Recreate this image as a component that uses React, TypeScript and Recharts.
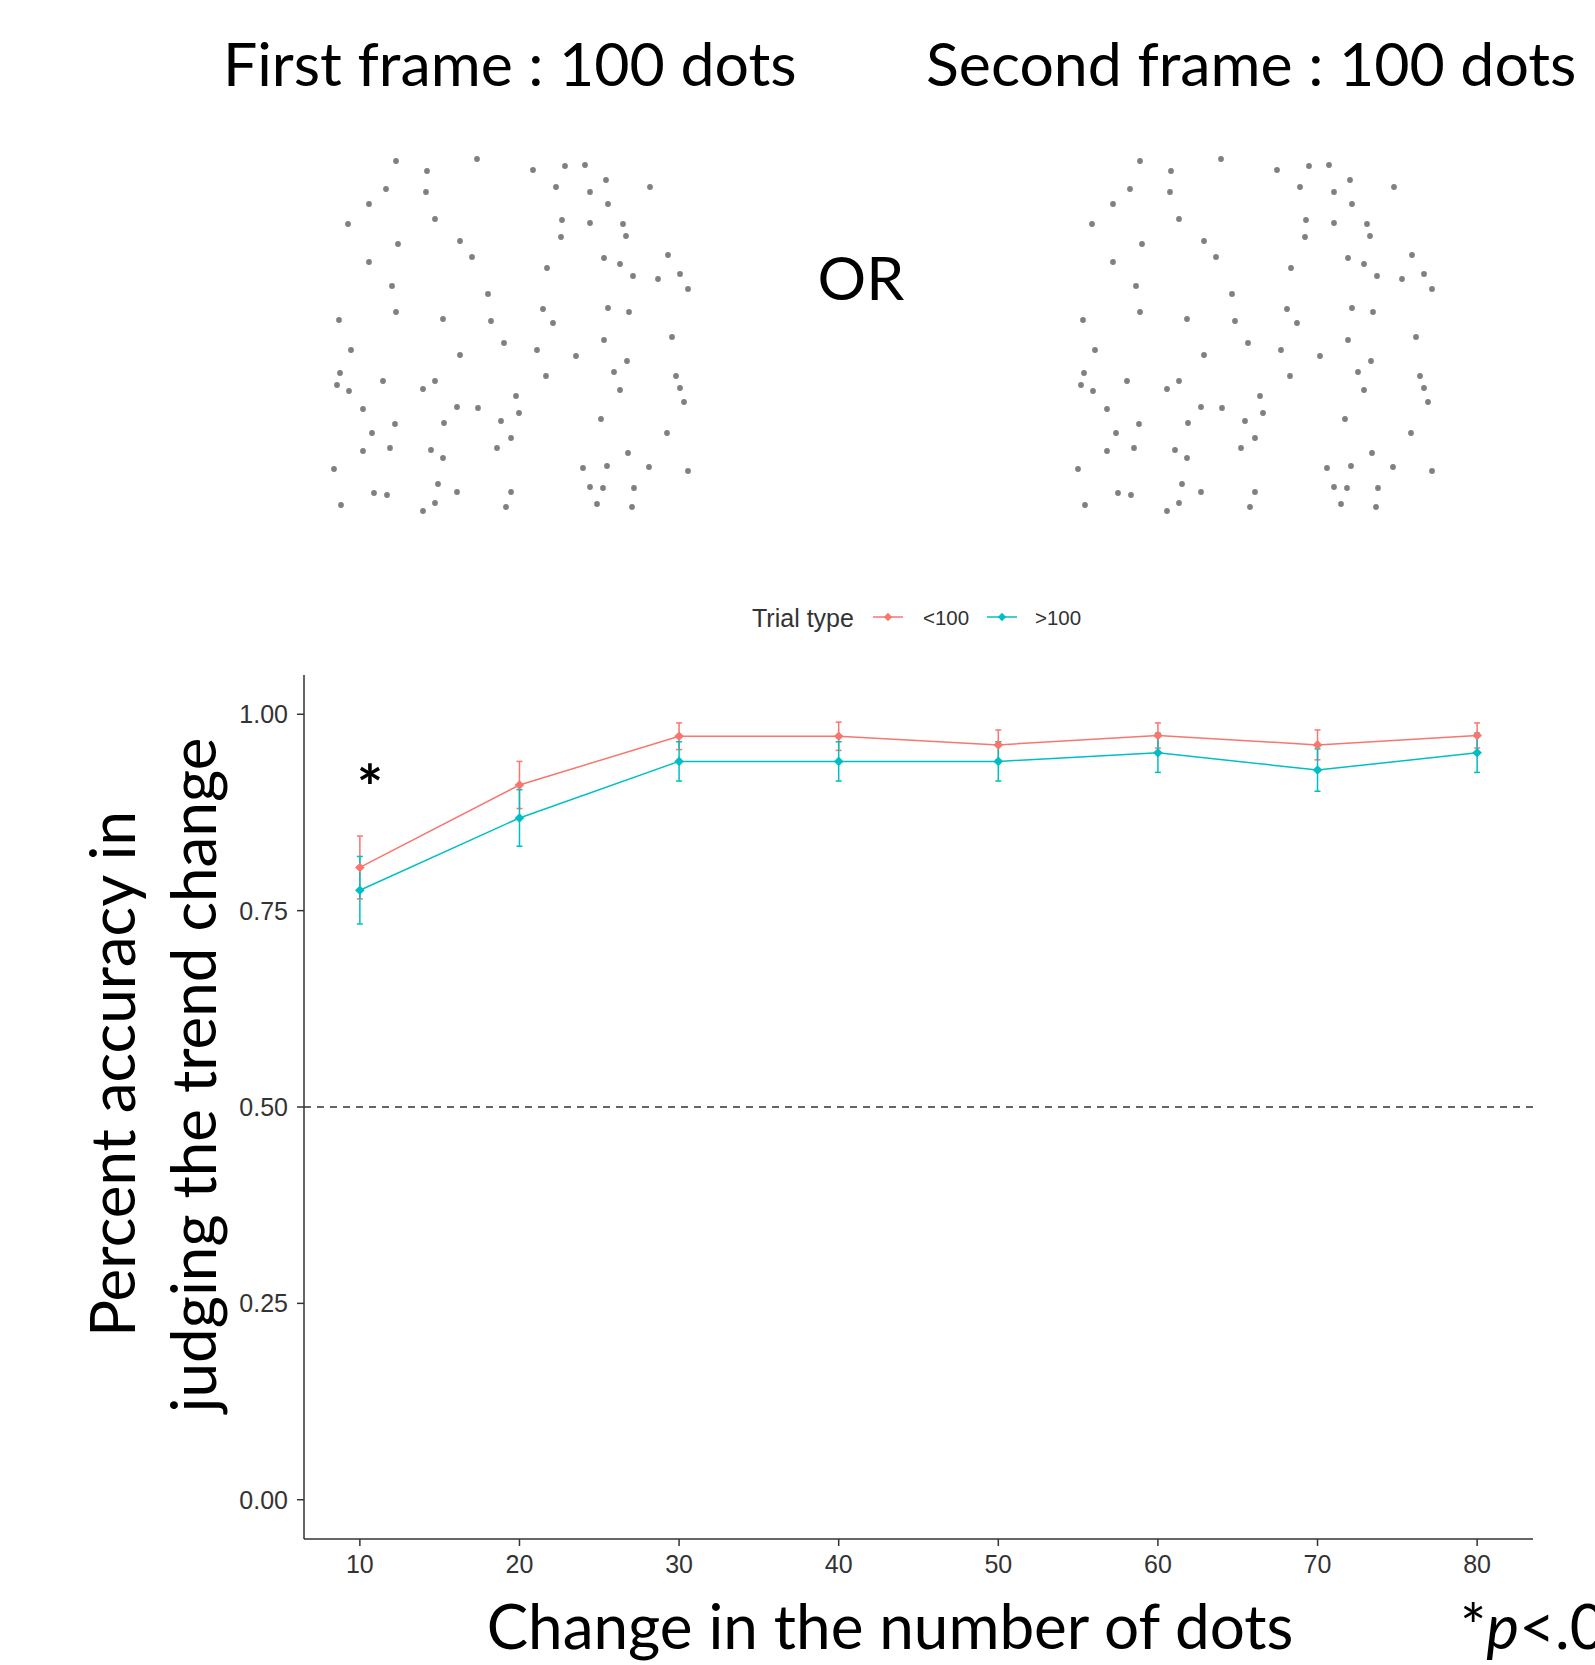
import React from "react";
import {
  LineChart,
  Line,
  XAxis,
  YAxis,
  ErrorBar,
  ReferenceLine,
  ScatterChart,
  Scatter,
} from "recharts";

// change in the number of dots
const changes = [10, 20, 30, 40, 50, 60, 70, 80];
// trial type "<100"
const lessMean = [0.805, 0.91, 0.972, 0.972, 0.961, 0.973, 0.961, 0.973];
const lessErr = [0.04, 0.03, 0.017, 0.018, 0.019, 0.016, 0.019, 0.016];
// trial type ">100"
const moreMean = [0.776, 0.868, 0.94, 0.94, 0.94, 0.951, 0.929, 0.951];
const moreErr = [0.043, 0.036, 0.025, 0.025, 0.025, 0.025, 0.027, 0.025];

const yTicks = [0, 0.25, 0.5, 0.75, 1];

// dot positions in the stimulus frame (px inside a 400x380 box)
const dotsX = [
  86, 117, 167, 223, 255, 275, 296, 76, 116, 246, 280, 340, 59, 298, 38, 125,
  252, 280, 313, 88, 150, 251, 316, 59, 162, 294, 310, 358, 237, 82, 323, 348,
  370, 378, 178, 86, 29, 133, 181, 233, 243, 298, 319, 362, 194, 294, 41, 150,
  227, 266, 317, 30, 304, 236, 366, 27, 73, 125, 113, 39, 310, 370, 206, 374,
  53, 147, 168, 209, 191, 291, 85, 134, 62, 357, 201, 53, 80, 121, 187, 133,
  318, 24, 273, 297, 339, 378, 128, 147, 64, 77, 201, 280, 293, 324, 31, 125,
  113, 196, 287, 322,
];
const dotsY = [
  21, 31, 19, 30, 26, 25, 40, 49, 52, 47, 52, 47, 64, 64, 84, 79, 80, 83, 84,
  104, 101, 97, 96, 122, 117, 118, 124, 115, 128, 146, 136, 139, 134, 149, 154,
  172, 180, 179, 181, 169, 183, 168, 172, 197, 203, 200, 210, 215, 210, 216,
  221, 233, 232, 236, 236, 245, 241, 241, 249, 251, 250, 248, 256, 262, 269,
  267, 268, 273, 281, 279, 284, 283, 293, 293, 298, 311, 308, 310, 308, 318,
  313, 329, 328, 326, 327, 331, 344, 352, 353, 355, 352, 347, 348, 348, 365,
  363, 371, 367, 364, 367,
];

const RED = "#F8766D";
const TEAL = "#00BFC4";
const AXIS = "#333333";
const TITLE_FONT = "Lato, 'Noto Sans', sans-serif";
const AXIS_FONT = "'Liberation Sans', Arial, sans-serif";

const rows = changes.map((x, i) => ({
  x,
  less: lessMean[i],
  lessErr: lessErr[i],
  more: moreMean[i],
  moreErr: moreErr[i],
}));

const dots = dotsX.map((x, i) => ({ x, y: dotsY[i] }));

function Diamond({ cx, cy, color, r = 4.8 }: any) {
  if (cx == null || cy == null) return null;
  return (
    <path
      d={`M${cx},${cy - r}L${cx + r},${cy}L${cx},${cy + r}L${cx - r},${cy}Z`}
      fill={color}
    />
  );
}

function DotFrame({ left, top }: { left: number; top: number }) {
  return (
    <div style={{ position: "absolute", left, top }}>
      <ScatterChart
        width={400}
        height={380}
        margin={{ top: 0, right: 0, bottom: 0, left: 0 }}
      >
        <XAxis type="number" dataKey="x" domain={[0, 400]} hide />
        <YAxis type="number" dataKey="y" domain={[0, 380]} reversed hide />
        <Scatter
          data={dots}
          isAnimationActive={false}
          shape={(p: any) => (
            <circle cx={p.cx} cy={p.cy} r={2.9} fill="#808080" />
          )}
        />
      </ScatterChart>
    </div>
  );
}

export default function App() {
  return (
    <div
      style={{
        position: "absolute",
        left: 0,
        top: 0,
        width: 1595,
        height: 1665,
        overflow: "hidden",
        background: "#fff",
      }}
    >
      <svg
        width={1595}
        height={1665}
        style={{ position: "absolute", left: 0, top: 0 }}
      >
        <g fontFamily={TITLE_FONT} fill="#000" fontSize={62}>
          <text x={223} y={86} fontSize={60.8}>
            First frame : 100 dots
          </text>
          <text x={926} y={86} fontSize={60.8}>
            Second frame : 100 dots
          </text>
          <text x={861} y={300} textAnchor="middle" fontSize={60.8}>
            OR
          </text>
          <text
            transform="translate(135,1074) rotate(-90)"
            textAnchor="middle"
          >
            Percent accuracy in
          </text>
          <text
            transform="translate(216,1075) rotate(-90)"
            textAnchor="middle"
          >
            judging the trend change
          </text>
          <text x={890} y={1649} textAnchor="middle">
            Change in the number of dots
          </text>
          <text x={1460} y={1649}>
            *<tspan fontStyle="italic">p</tspan>&lt;.05
          </text>
          <text x={370} y={810} textAnchor="middle" fontWeight="bold">
            *
          </text>
        </g>
        {/* legend */}
        <g fontFamily={AXIS_FONT} fill={AXIS}>
          <text x={752} y={627} fontSize={25}>
            Trial type
          </text>
          <line x1={873} x2={903} y1={617} y2={617} stroke={RED} strokeWidth={1.5} />
          <Diamond cx={888} cy={617} color={RED} r={4.2} />
          <text x={923} y={625} fontSize={20.5}>
            &lt;100
          </text>
          <line x1={987} x2={1017} y1={617} y2={617} stroke={TEAL} strokeWidth={1.5} />
          <Diamond cx={1002} cy={617} color={TEAL} r={4.2} />
          <text x={1035} y={625} fontSize={20.5}>
            &gt;100
          </text>
        </g>
      </svg>

      <DotFrame left={310} top={140} />
      <DotFrame left={1054} top={140} />

      <div style={{ position: "absolute", left: 0, top: 660 }}>
        <LineChart
          width={1595}
          height={940}
          data={rows}
          margin={{ top: 15, right: 62, bottom: 11, left: 224 }}
        >
          <XAxis
            type="number"
            dataKey="x"
            domain={[6.5, 83.5]}
            ticks={changes}
            height={50}
            axisLine={{ stroke: AXIS, strokeWidth: 1.5 }}
            tickLine={{ stroke: AXIS, strokeWidth: 1.5 }}
            tickSize={7}
            tickMargin={9}
            tick={{ fill: AXIS, fontSize: 25, fontFamily: AXIS_FONT }}
          />
          <YAxis
            type="number"
            domain={[-0.05, 1.05]}
            ticks={yTicks}
            width={80}
            tickFormatter={(v: number) => v.toFixed(2)}
            axisLine={{ stroke: AXIS, strokeWidth: 1.5 }}
            tickLine={{ stroke: AXIS, strokeWidth: 1.5 }}
            tickSize={7}
            tickMargin={9}
            tick={{ fill: AXIS, fontSize: 25, fontFamily: AXIS_FONT }}
          />
          <ReferenceLine
            y={0.5}
            stroke={AXIS}
            strokeWidth={1.5}
            strokeDasharray="7 6"
          />
          <Line
            dataKey="less"
            stroke={RED}
            strokeWidth={1.5}
            isAnimationActive={false}
            dot={(p: any) => (
              <Diamond key={`l${p.index}`} cx={p.cx} cy={p.cy} color={RED} />
            )}
          >
            <ErrorBar
              dataKey="lessErr"
              direction="y"
              width={3}
              stroke={RED}
              strokeWidth={1.5}
              isAnimationActive={false}
            />
          </Line>
          <Line
            dataKey="more"
            stroke={TEAL}
            strokeWidth={1.5}
            isAnimationActive={false}
            dot={(p: any) => (
              <Diamond key={`m${p.index}`} cx={p.cx} cy={p.cy} color={TEAL} />
            )}
          >
            <ErrorBar
              dataKey="moreErr"
              direction="y"
              width={3}
              stroke={TEAL}
              strokeWidth={1.5}
              isAnimationActive={false}
            />
          </Line>
        </LineChart>
      </div>
    </div>
  );
}
